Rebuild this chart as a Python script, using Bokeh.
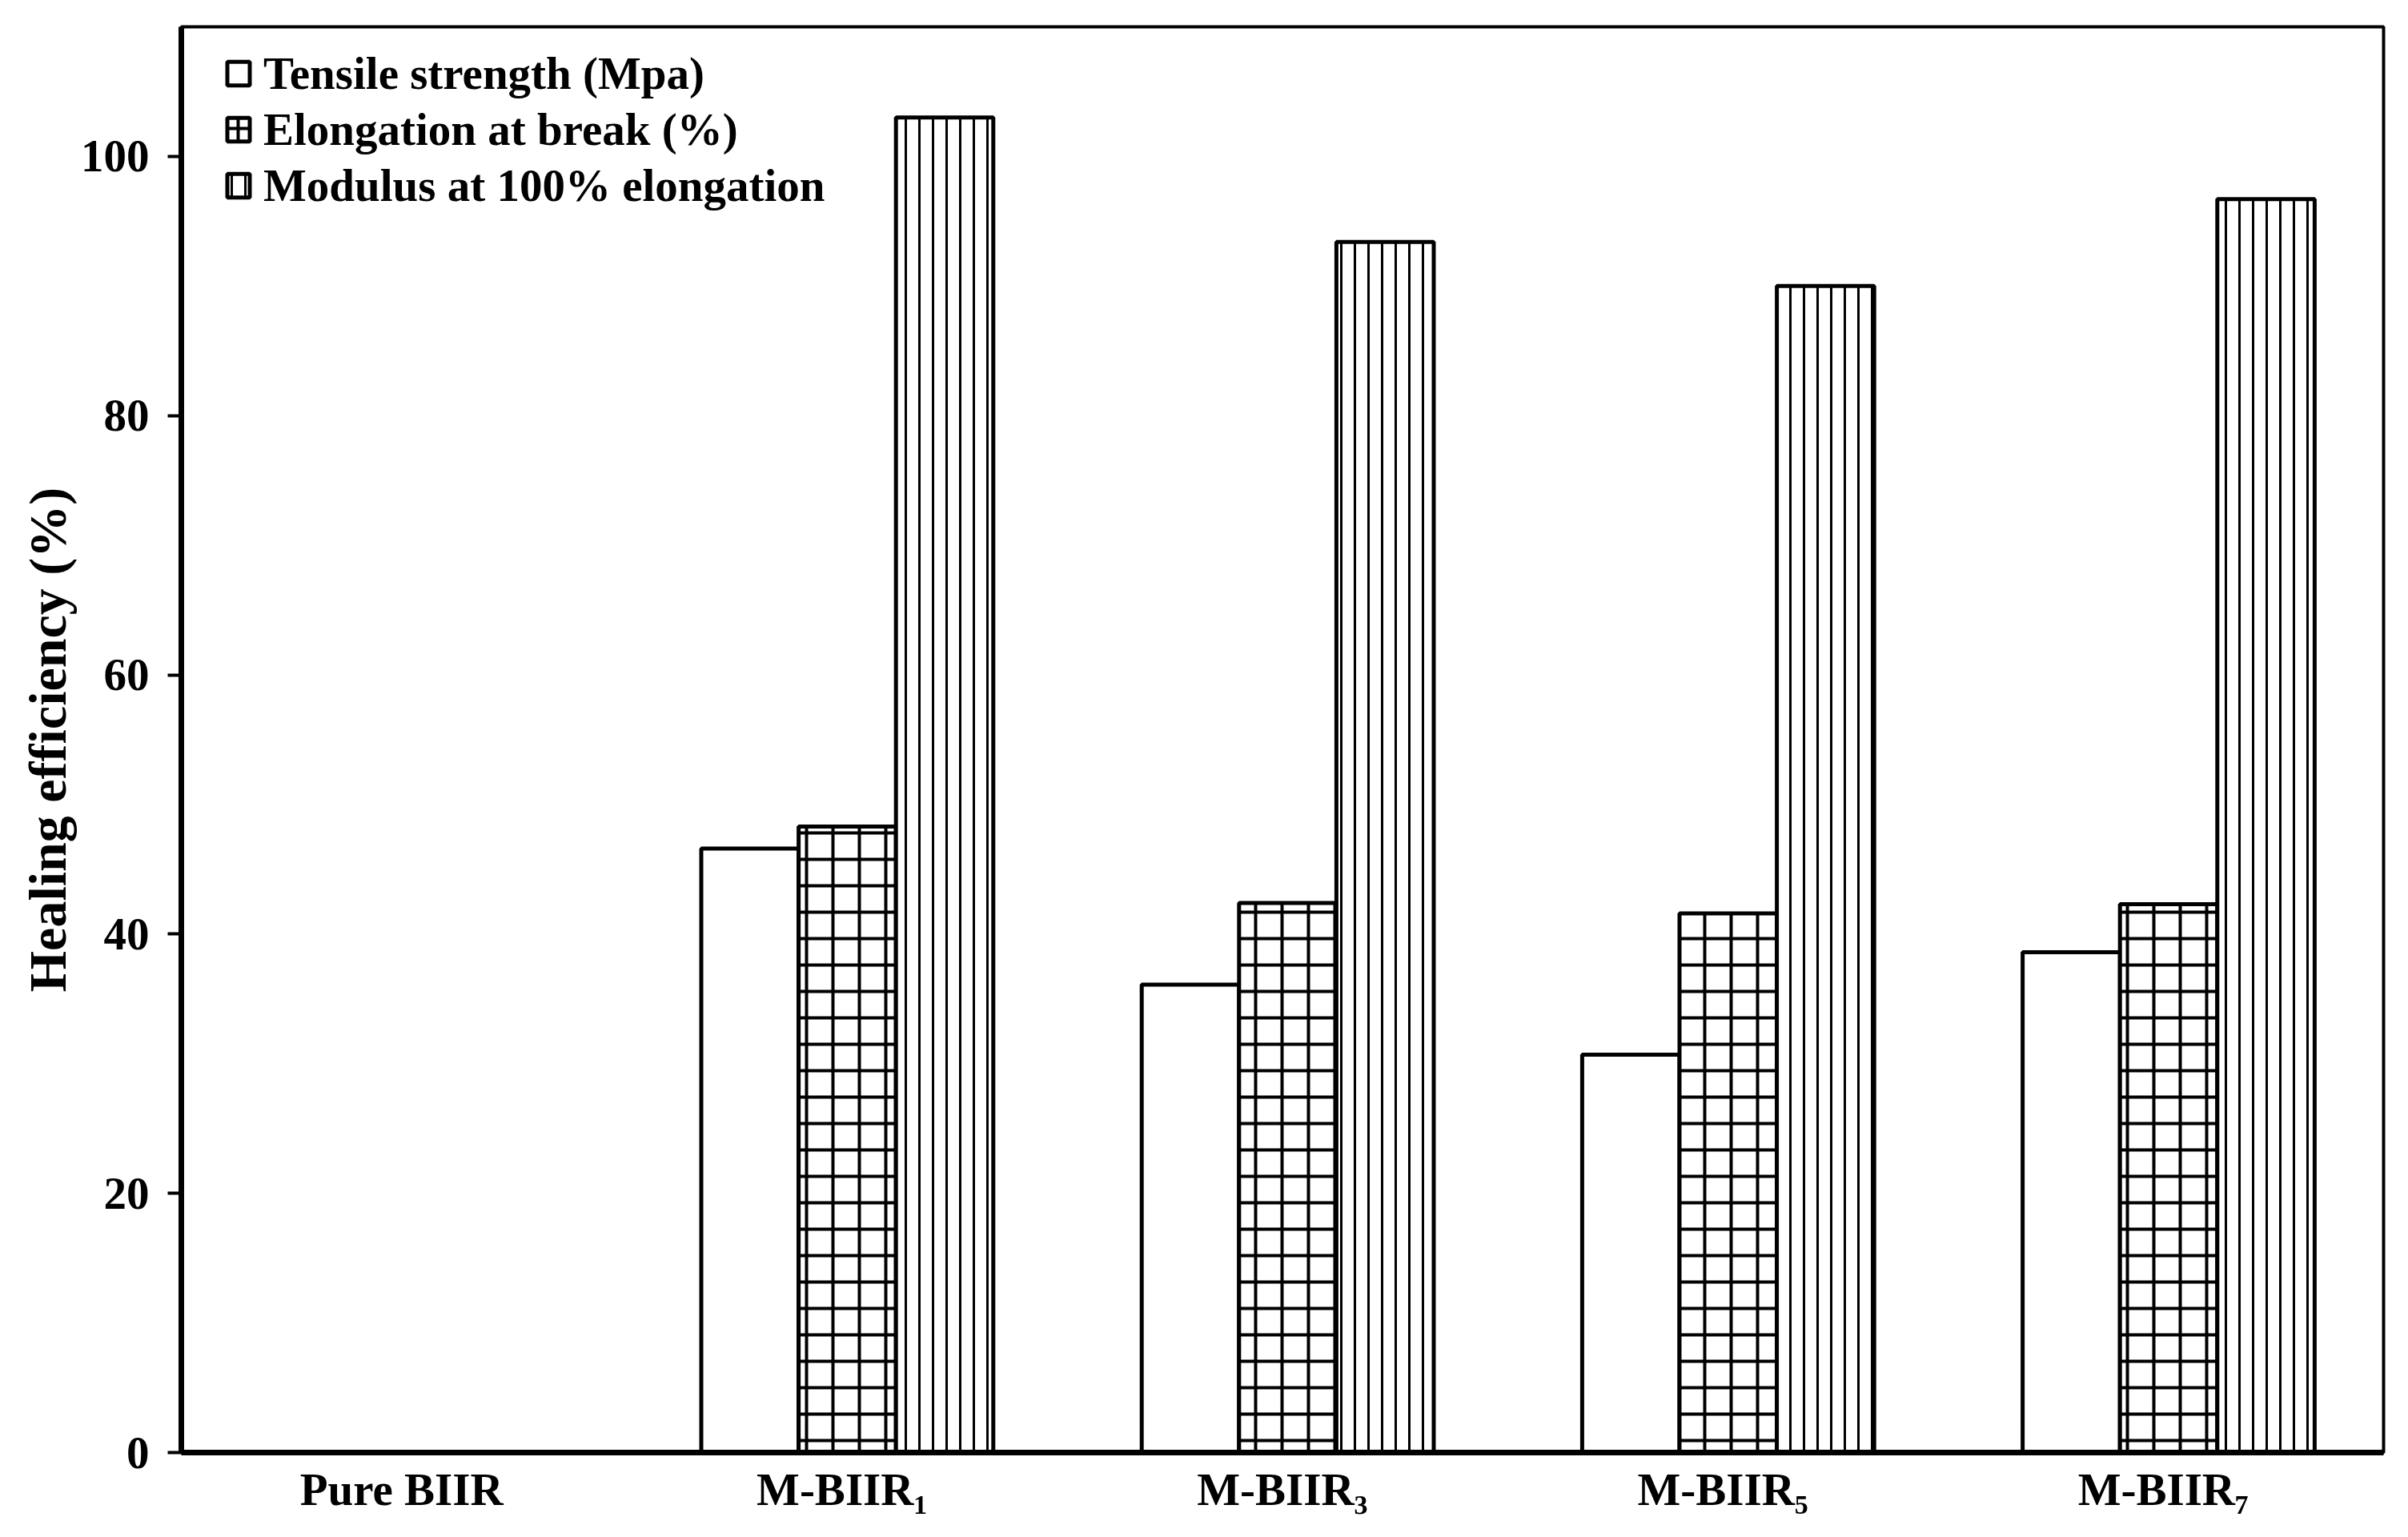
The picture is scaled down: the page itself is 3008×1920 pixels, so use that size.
from bokeh.plotting import figure
from bokeh.models import ColumnDataSource, Legend, LegendItem, FactorRange, FixedTicker
from bokeh.transform import dodge
from bokeh.embed import file_html
from bokeh.resources import INLINE

# ---- data ----
categories = ["Pure BIIR", "M-BIIR\u2081", "M-BIIR\u2083", "M-BIIR\u2085", "M-BIIR\u2087"]
tensile = [0, 46.6, 36.1, 30.7, 38.6]
elongation = [0, 48.3, 42.4, 41.6, 42.3]
modulus = [0, 103.0, 93.4, 90.0, 96.7]
series_names = ["Tensile strength (Mpa)", "Elongation at break (%)", "Modulus at 100% elongation"]
y_ticks = [0, 20, 40, 60, 80, 100]
y_label = "Healing efficiency (%)"

FONT = "Liberation Serif"
W, H = 2992, 1904

p = figure(
    x_range=FactorRange(*categories, range_padding=0),
    y_range=(0, 110),
    width=W, height=H,
    output_backend="svg", toolbar_location=None,
    min_border_left=226, min_border_right=15, min_border_top=33, min_border_bottom=90,
)
p.background_fill_color = "white"
p.border_fill_color = "white"
p.xgrid.grid_line_color = None
p.ygrid.grid_line_color = None
p.outline_line_color = "black"
p.outline_line_width = 4
p.outline_line_alpha = 1.0

# y axis
ya = p.yaxis[0]
ya.ticker = FixedTicker(ticks=y_ticks)
ya.axis_line_width = 7
ya.axis_line_color = "black"
ya.major_tick_out = 17
ya.major_tick_in = 0
ya.minor_tick_out = 0
ya.minor_tick_in = 0
ya.major_tick_line_width = 4
ya.major_tick_line_color = "black"
ya.major_label_text_font = FONT
ya.major_label_text_font_style = "bold"
ya.major_label_text_font_size = "57px"
ya.major_label_text_color = "black"
ya.major_label_standoff = 23
ya.axis_label = y_label
ya.axis_label_text_font = FONT
ya.axis_label_text_font_style = "bold"
ya.axis_label_text_font_size = "66px"
ya.axis_label_text_color = "black"
ya.axis_label_standoff = 2

# x axis
xa = p.xaxis[0]
xa.axis_line_width = 7
xa.axis_line_color = "black"
xa.major_tick_out = 0
xa.major_tick_in = 0
xa.minor_tick_out = 0
xa.major_label_text_font = FONT
xa.major_label_text_font_style = "bold"
xa.major_label_text_font_size = "57px"
xa.major_label_text_color = "black"
xa.major_label_standoff = 14

src = ColumnDataSource(dict(cat=categories, tensile=tensile, elongation=elongation, modulus=modulus))
bw = 0.221
shift = 0.012

r1 = p.vbar(x=dodge("cat", -bw + shift, range=p.x_range), top="tensile", width=bw, source=src,
            fill_color="white", line_color="black", line_width=5)
r2 = p.vbar(x=dodge("cat", 0 + shift, range=p.x_range), top="elongation", width=bw, source=src,
            fill_color="white", line_color="black", line_width=5,
            hatch_pattern="+", hatch_scale=33, hatch_weight=4, hatch_color="black")
r3 = p.vbar(x=dodge("cat", bw + shift, range=p.x_range), top="modulus", width=bw, source=src,
            fill_color="white", line_color="black", line_width=5,
            hatch_pattern="|", hatch_scale=17, hatch_weight=3, hatch_color="black")

legend = Legend(
    items=[LegendItem(label=series_names[0], renderers=[r1]),
           LegendItem(label=series_names[1], renderers=[r2]),
           LegendItem(label=series_names[2], renderers=[r3])],
    location=(54, 1548),
    orientation="vertical",
    glyph_width=35, glyph_height=37,
    label_height=70, spacing=0, padding=0, margin=0,
    label_standoff=14,
    label_text_font=FONT, label_text_font_style="bold", label_text_font_size="57px",
    label_text_color="black",
    background_fill_alpha=0, border_line_color=None,
)
p.add_layout(legend)

open("out.html", "w").write(file_html(p, INLINE))
